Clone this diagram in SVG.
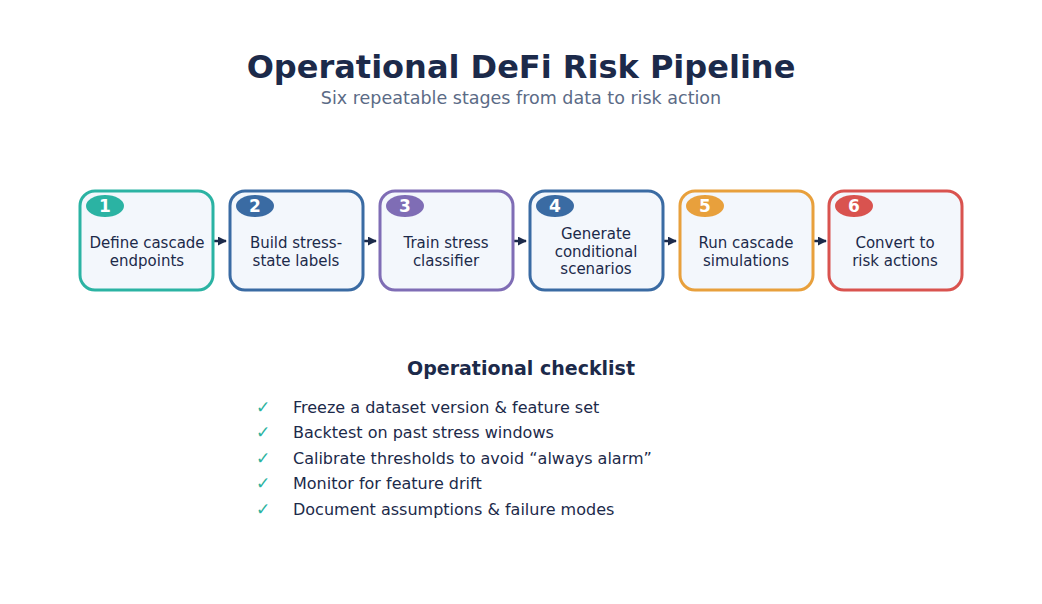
<svg xmlns="http://www.w3.org/2000/svg" width="1042" height="604" viewBox="0 0 1042 604">
<style>
text{font-family:"DejaVu Sans","Liberation Sans",sans-serif;fill:#1c2a4a}
.title{font-size:32px;font-weight:bold;text-anchor:middle}
.sub{font-size:17.5px;fill:#5b6b86;text-anchor:middle}
.box{fill:#f3f7fc;stroke-width:3}
.lbl{font-size:15px;text-anchor:middle}
.num{font-size:17px;font-weight:bold;fill:#fff;text-anchor:middle}
.head{font-size:19px;font-weight:bold;text-anchor:middle}
.item{font-size:16px}
.chk{font-size:17px;fill:#2bb3a0;text-anchor:middle}
.conn{stroke:#1c2a4a;stroke-width:2.5;fill:none;marker-end:url(#ah)}
</style>
<defs>
<marker id="ah" viewBox="0 0 10 10" refX="9" refY="5" markerWidth="3.6" markerHeight="3.6" orient="auto"><path d="M0,0L10,5L0,10z" fill="#1c2a4a"/></marker>
</defs>
<rect width="1042" height="604" fill="#fff"/>
<text class="title" x="521" y="78">Operational DeFi Risk Pipeline</text>
<text class="sub" x="521" y="104">Six repeatable stages from data to risk action</text>
<g id="connectors">
<line class="conn" x1="214" y1="241" x2="226" y2="241"/>
<line class="conn" x1="364" y1="241" x2="376" y2="241"/>
<line class="conn" x1="514" y1="241" x2="526" y2="241"/>
<line class="conn" x1="664" y1="241" x2="676" y2="241"/>
<line class="conn" x1="814" y1="241" x2="826" y2="241"/>
</g>
<g id="n1"><rect class="box" x="80" y="191" width="133" height="99" rx="15" stroke="#2bb3a3"/><ellipse cx="105" cy="206" rx="19" ry="11" fill="#2bb3a3"/><text class="num" x="105" y="212">1</text><text class="lbl" x="147" y="248">Define cascade</text><text class="lbl" x="147" y="266">endpoints</text></g>
<g id="n2"><rect class="box" x="230" y="191" width="133" height="99" rx="15" stroke="#3a6ba3"/><ellipse cx="255" cy="206" rx="19" ry="11" fill="#3a6ba3"/><text class="num" x="255" y="212">2</text><text class="lbl" x="296" y="248">Build stress-</text><text class="lbl" x="296" y="266">state labels</text></g>
<g id="n3"><rect class="box" x="380" y="191" width="133" height="99" rx="15" stroke="#7f6db5"/><ellipse cx="405" cy="206" rx="19" ry="11" fill="#7f6db5"/><text class="num" x="405" y="212">3</text><text class="lbl" x="446" y="248">Train stress</text><text class="lbl" x="446" y="266">classifier</text></g>
<g id="n4"><rect class="box" x="530" y="191" width="133" height="99" rx="15" stroke="#3a6ba3"/><ellipse cx="555" cy="206" rx="19" ry="11" fill="#3a6ba3"/><text class="num" x="555" y="212">4</text><text class="lbl" x="596" y="239">Generate</text><text class="lbl" x="596" y="257">conditional</text><text class="lbl" x="596" y="274">scenarios</text></g>
<g id="n5"><rect class="box" x="680" y="191" width="133" height="99" rx="15" stroke="#e8a03c"/><ellipse cx="705" cy="206" rx="19" ry="11" fill="#e8a03c"/><text class="num" x="705" y="212">5</text><text class="lbl" x="746" y="248">Run cascade</text><text class="lbl" x="746" y="266">simulations</text></g>
<g id="n6"><rect class="box" x="829" y="191" width="133" height="99" rx="15" stroke="#d9534f"/><ellipse cx="854" cy="206" rx="19" ry="11" fill="#d9534f"/><text class="num" x="854" y="212">6</text><text class="lbl" x="895" y="248">Convert to</text><text class="lbl" x="895" y="266">risk actions</text></g>
<g id="checklist">
<text class="head" x="521" y="375">Operational checklist</text>
<text class="chk" x="263" y="413">✓</text><text class="item" x="293" y="413">Freeze a dataset version &amp; feature set</text>
<text class="chk" x="263" y="438">✓</text><text class="item" x="293" y="438">Backtest on past stress windows</text>
<text class="chk" x="263" y="464">✓</text><text class="item" x="293" y="464">Calibrate thresholds to avoid “always alarm”</text>
<text class="chk" x="263" y="489">✓</text><text class="item" x="293" y="489">Monitor for feature drift</text>
<text class="chk" x="263" y="515">✓</text><text class="item" x="293" y="515">Document assumptions &amp; failure modes</text>
</g>
</svg>
